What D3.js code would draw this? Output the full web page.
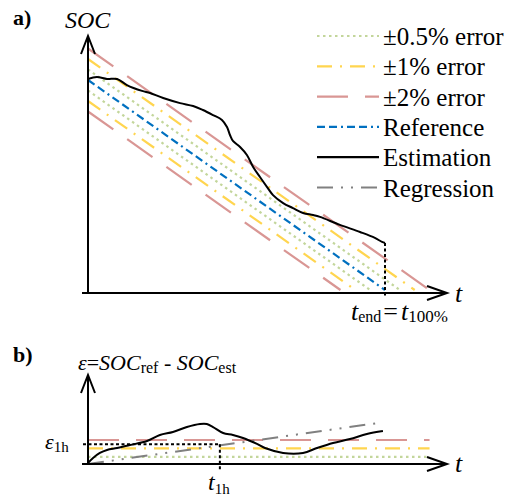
<!DOCTYPE html>
<html><head><meta charset="utf-8">
<script src="https://cdn.jsdelivr.net/npm/d3@7"></script>
</head><body style="margin:0">
<svg id="c" width="505" height="501"></svg>
<script>
// ---------- data ----------
// panel a: estimation curve (t normalised to t_end = 1, SOC in %)
const estT   = [0,0.030,0.064,0.098,0.131,0.182,0.209,0.253,0.310,0.354,0.387,0.421,0.451,0.468,0.478,0.488,0.512,0.535,0.556,0.579,0.603,0.623,0.657,0.690,0.724,0.758,0.781,0.848,0.916,0.966,0.990,1.0];
const estSOC = [100.5,101.4,100.5,100.5,97.6,94.8,93.8,91.4,89.0,87.6,85.7,83.3,81.0,77.6,73.8,71.0,68.1,64.3,58.6,53.8,49.0,45.2,41.4,39.0,36.7,35.7,34.8,31.0,27.6,24.8,22.9,22.4];
const refT   = [0, 1];
const refSOC = [100, 0];
const bandLabels   = ["±0.5% error","±1% error","±2% error"];
const bandOffsetsA = [5, 10, 15];      // vertical offset of the bands in panel a
const bandLevelsB  = [0.6, 1.3, 2.0];  // level of the bands in panel b
// panel b: error curve
const errT   = [0,0.017,0.040,0.064,0.098,0.141,0.199,0.242,0.286,0.333,0.377,0.400,0.421,0.455,0.488,0.522,0.569,0.596,0.657,0.724,0.771,0.825,0.882,0.939,0.993];
const errEps = [0.08,0.5,0.92,1.17,1.33,1.58,1.92,2.42,2.67,3.08,3.33,3.33,3.08,2.58,2.42,2.17,1.67,1.33,0.92,0.92,1.33,1.75,2.08,2.5,2.75];
const regT   = [0, 0.973];
const regEps = [0, 3.4];
const tEnd = 1, t1h = 0.444, eps1h = 1.65;
const legendLabels = ["±0.5% error","±1% error","±2% error","Reference","Estimation","Regression"];

// ---------- styles ----------
const FONT = "'Liberation Serif'";
const bandStyles = [
  {color:"#c3d69b", dash:"2.5,3.5"},
  {color:"#ffd54f", dash:"15,8,2,8"},
  {color:"#d99694", dash:"31,17"}
];
const refStyle = {color:"#0070c0", dash:"8,4,8,4,2,4"};
const estStyle = {color:"#000", dash:null};
const regStyle = {color:"#808080", dash:"16,8,2,8,2,8"};
const legendStyles = [...bandStyles, refStyle, estStyle, regStyle];

const svg = d3.select("#c");
const x  = d3.scaleLinear().domain([0,1]).range([88,385]);
const yA = d3.scaleLinear().domain([0,100]).range([290,80]);
const yB = d3.scaleLinear().domain([0,5]).range([464,404]);

function txt(xp, yp, size){
  return svg.append("text").attr("x",xp).attr("y",yp)
    .style("font-family",FONT).attr("font-size",size);
}
function sub(t, s, size, dy){
  return t.append("tspan").attr("font-size",size).attr("dy",dy).text(s);
}
function arrowUp(g, cx, tip){
  g.append("path").attr("d",`M${cx-7},${tip+18}L${cx},${tip}L${cx+7},${tip+18}`)
   .attr("fill","none").attr("stroke","#000").attr("stroke-width",2);
}
function arrowRight(g, cy, tip){
  g.append("path").attr("d",`M${tip-20},${cy-7}L${tip},${cy}L${tip-20},${cy+7}`)
   .attr("fill","none").attr("stroke","#000").attr("stroke-width",2);
}
const line = d3.line();

// ================= panel a =================
const ga = svg.append("g");
const slope = (refSOC[1]-refSOC[0])/(refT[1]-refT[0]);
bandOffsetsA.forEach((d,i)=>{
  [d,-d].forEach(off=>{
    const s0 = refSOC[0]+off;
    const tz = refT[0] - s0/slope;
    ga.append("path").attr("d", line([[x(0),yA(s0)],[x(tz),yA(0)]]))
      .attr("fill","none").attr("stroke",bandStyles[i].color).attr("stroke-width",2.2)
      .attr("stroke-dasharray",bandStyles[i].dash);
  });
});
ga.append("path").attr("d", line(refT.map((t,i)=>[x(t),yA(refSOC[i])])))
  .attr("fill","none").attr("stroke",refStyle.color).attr("stroke-width",2.2)
  .attr("stroke-dasharray",refStyle.dash);
ga.append("path").attr("d", d3.line().curve(d3.curveCatmullRom)(estT.map((t,i)=>[x(t),yA(estSOC[i])])))
  .attr("fill","none").attr("stroke","#000").attr("stroke-width",2);
ga.append("line").attr("x1",x(tEnd)).attr("x2",x(tEnd))
  .attr("y1",yA(estSOC[estSOC.length-1])).attr("y2",yA(0)+8)
  .attr("stroke","#000").attr("stroke-width",2).attr("stroke-dasharray","3,2.5");
ga.append("line").attr("x1",x(0)).attr("x2",x(0)).attr("y1",36).attr("y2",yA(0)+3.5)
  .attr("stroke","#000").attr("stroke-width",2);
ga.append("line").attr("x1",x(0)-6).attr("x2",447).attr("y1",yA(0)+3).attr("y2",yA(0)+3)
  .attr("stroke","#000").attr("stroke-width",2);
arrowUp(ga, x(0), 36);
arrowRight(ga, yA(0)+3, 447);

// legend
legendLabels.forEach((lab,i)=>{
  const by = 45 + i*30.3;
  const st = legendStyles[i];
  svg.append("line").attr("x1",317).attr("x2",379).attr("y1",by-9).attr("y2",by-9)
    .attr("stroke",st.color).attr("stroke-width",2.2)
    .attr("stroke-dasharray",st.dash);
  txt(383, by, 25).text(lab);
});

// texts panel a
txt(13,25,22).attr("font-weight","bold").text("a)");
txt(65,28,24).attr("font-style","italic").text("SOC");
txt(455,302,26).attr("font-style","italic").text("t");
const te = txt(351,320,26);
te.append("tspan").attr("font-style","italic").text("t");
sub(te,"end",16,2);
te.append("tspan").attr("dy",-2).attr("dx",2).text("=");
te.append("tspan").attr("font-style","italic").attr("dx",3).text("t");
sub(te,"100%",17,2);

// ================= panel b =================
const gb = svg.append("g");
bandLevelsB.forEach((v,i)=>{
  gb.append("line").attr("x1",x(0)).attr("x2",x(1.15)).attr("y1",yB(v)).attr("y2",yB(v))
    .attr("stroke",bandStyles[i].color).attr("stroke-width",2.2)
    .attr("stroke-dasharray",bandStyles[i].dash);
});
gb.append("path").attr("d", line(regT.map((t,i)=>[x(t),yB(regEps[i])])))
  .attr("fill","none").attr("stroke",regStyle.color).attr("stroke-width",2)
  .attr("stroke-dasharray",regStyle.dash);
gb.append("path").attr("d", d3.line().curve(d3.curveCatmullRom)(errT.map((t,i)=>[x(t),yB(errEps[i])])))
  .attr("fill","none").attr("stroke","#000").attr("stroke-width",2);
gb.append("line").attr("x1",x(0)-5).attr("x2",x(t1h)).attr("y1",yB(eps1h)).attr("y2",yB(eps1h))
  .attr("stroke","#000").attr("stroke-width",2).attr("stroke-dasharray","3,2.5");
gb.append("line").attr("x1",x(t1h)).attr("x2",x(t1h)).attr("y1",yB(eps1h)).attr("y2",yB(0)+7)
  .attr("stroke","#000").attr("stroke-width",2).attr("stroke-dasharray","3,2.5");
gb.append("line").attr("x1",x(0)).attr("x2",x(0)).attr("y1",375).attr("y2",yB(0)+1)
  .attr("stroke","#000").attr("stroke-width",2);
gb.append("line").attr("x1",x(0)-6).attr("x2",447).attr("y1",yB(0)).attr("y2",yB(0))
  .attr("stroke","#000").attr("stroke-width",2);
arrowUp(gb, x(0), 375);
arrowRight(gb, yB(0), 447);

txt(13,362,22).attr("font-weight","bold").text("b)");
const el = txt(78,370,22);
el.append("tspan").attr("font-style","italic").text("ε");
el.append("tspan").text("=");
el.append("tspan").attr("font-style","italic").text("SOC");
sub(el,"ref",16,3);
el.append("tspan").attr("dy",-3).text(" - ");
el.append("tspan").attr("font-style","italic").text("SOC");
sub(el,"est",16,3);
txt(455,472,26).attr("font-style","italic").text("t");
const e1 = txt(45,449,22);
e1.append("tspan").attr("font-style","italic").text("ε");
sub(e1,"1h",15,3);
const t1 = txt(208,490,24);
t1.append("tspan").attr("font-style","italic").text("t");
sub(t1,"1h",15,4);
</script>
</body></html>
